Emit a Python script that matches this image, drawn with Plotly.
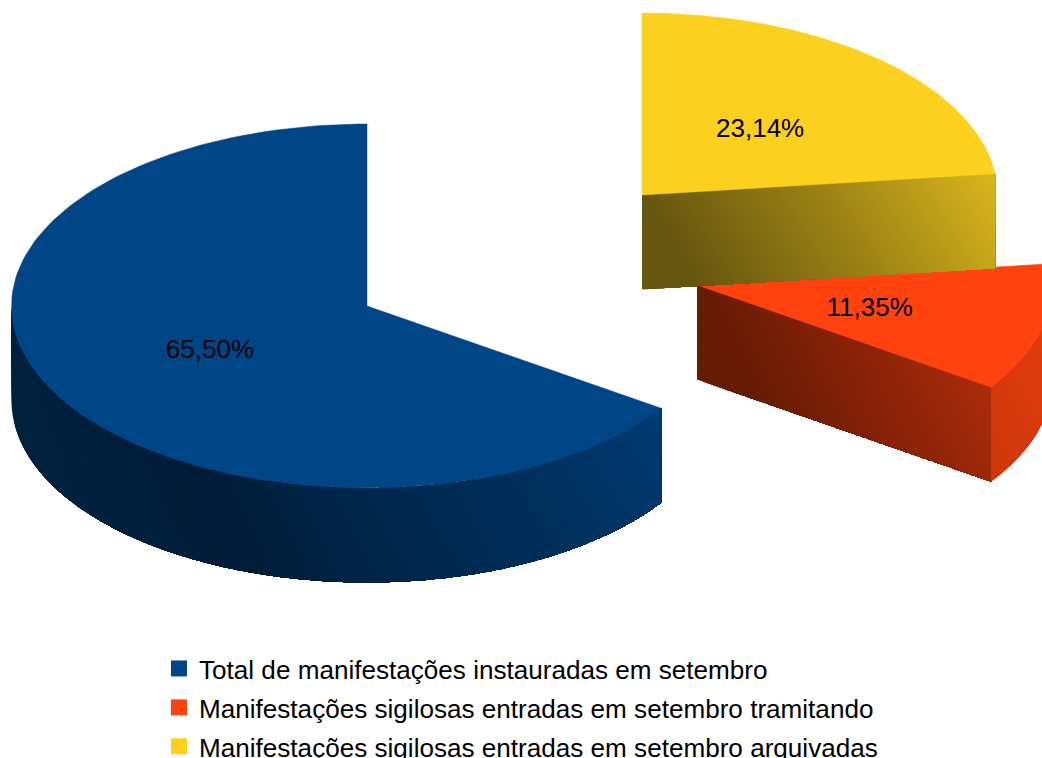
import math
import plotly.graph_objects as go

# ---- data ----
categories = [
    "Total de manifestações instauradas em setembro",
    "Manifestações sigilosas entradas em setembro tramitando",
    "Manifestações sigilosas entradas em setembro arquivadas",
]
values = [65.50, 11.35, 23.14]
labels = ["65,50%", "11,35%", "23,14%"]
top_colors = ["#004586", "#ff420e", "#fbd01f"]

# ---- projection / style ----
W, H = 1042, 758
RX, RY, DEPTH = 355.5, 182.0, 94.5
centers = [(367, 306), (697, 285), (642, 195)]
FONT = "Liberation Sans"
LABEL_DY = 3


def pt(c, deg, f=1.0):
    a = math.radians(deg)
    return c[0] - RX * f * math.sin(a), c[1] - RY * f * math.cos(a)


def hex2rgb(h):
    return tuple(int(h[i:i + 2], 16) for i in (1, 3, 5))


def ramp(stops, x):
    if x <= stops[0][0]:
        return hex2rgb(stops[0][1])
    for (x0, c0), (x1, c1) in zip(stops, stops[1:]):
        if x <= x1:
            u = (x - x0) / (x1 - x0)
            a, b = hex2rgb(c0), hex2rgb(c1)
            return tuple(a[i] + (b[i] - a[i]) * u for i in range(3))
    return hex2rgb(stops[-1][1])


def side_traces(edge, stops, k, band=4.0):
    """Extruded face under a polyline. Painted in order of rising shade value:
    each layer covers everything still ahead of it, so no seams appear."""
    xmin = min(p[0] for p in edge)
    xmax = max(p[0] for p in edge)
    out = []
    tb = xmin - k * DEPTH
    while tb < xmax:
        upper, lower = [], []
        for x, y in edge:
            d = DEPTH if tb <= xmin - k * DEPTH else min(DEPTH, (x - tb) / k)
            if d > 0:
                upper.append((x, y))
                lower.append((x, y + d))
        if upper:
            poly = upper + lower[::-1]
            poly.append(poly[0])
            col = "rgb(%d,%d,%d)" % tuple(round(v) for v in ramp(stops, tb + band / 2))
            out.append(go.Scatter(x=[p[0] for p in poly], y=[p[1] for p in poly], mode="none",
                                  fill="toself", fillcolor=col, hoverinfo="skip", showlegend=False))
        tb += band
    return out


total = sum(values)
starts, a = [], 0.0
for v in values:
    starts.append(a)
    a += v / total * 360
ends = [s + v / total * 360 for s, v in zip(starts, values)]


def arc(c, a0, a1, n):
    return [pt(c, a0 + (a1 - a0) * i / n) for i in range(n + 1)]


def lerp_edge(p, q, n):
    return [(p[0] + (q[0] - p[0]) * i / n, p[1] + (q[1] - p[1]) * i / n) for i in range(n + 1)]


def top_trace(i):
    poly = [centers[i]] + arc(centers[i], starts[i], ends[i], 160) + [centers[i]]
    return go.Scatter(x=[p[0] for p in poly], y=[p[1] for p in poly], mode="lines", fill="toself",
                      fillcolor=top_colors[i], line=dict(color=top_colors[i], width=0.5),
                      hoverinfo="skip", showlegend=False)


fig = go.Figure()

# blue slice: outer wall
for t in side_traces(arc(centers[0], 90, ends[0], 300),
                     [(11, "#00213f"), (200, "#001c38"), (367, "#00274c"), (520, "#002f5c"), (661, "#003b72")], 0.5):
    fig.add_trace(t)
fig.add_trace(top_trace(0))

# red slice: cut wall + outer wall
rp = pt(centers[1], ends[0])
for t in side_traces(lerp_edge(centers[1], rp, 150),
                     [(697, "#661b05"), (850, "#8a2208"), (992, "#aa2c0a")], 0.6):
    fig.add_trace(t)
for t in side_traces(arc(centers[1], ends[0], 270, 60),
                     [(960, "#cc370b"), (1050, "#e03d0d")], 0.3):
    fig.add_trace(t)
fig.add_trace(top_trace(1))

# yellow slice: cut wall
yp = pt(centers[2], ends[1])
for t in side_traces(lerp_edge(centers[2], yp, 150),
                     [(642, "#675610"), (830, "#a08615"), (996, "#dab71e")], 0.6):
    fig.add_trace(t)
fig.add_trace(top_trace(2))

# percentage labels
for i, lab in enumerate(labels):
    mid = (starts[i] + ends[i]) / 2
    x, y = pt(centers[i], mid, 0.5)
    fig.add_trace(go.Scatter(x=[x], y=[y + LABEL_DY], mode="text", text=[lab], textposition="middle center",
                             textfont=dict(family=FONT, size=26, color="#000000"),
                             hoverinfo="skip", showlegend=False))

# legend entries
for i, name in enumerate(categories):
    fig.add_trace(go.Scatter(x=[None], y=[None], mode="markers", name=name, legendgroup=str(i),
                             marker=dict(symbol="square", size=16, color=top_colors[i])))

fig.update_layout(
    width=W, height=H, autosize=False,
    margin=dict(l=0, r=0, t=0, b=0, autoexpand=False),
    paper_bgcolor="white", plot_bgcolor="white",
    xaxis=dict(range=[0, W], visible=False, fixedrange=True),
    yaxis=dict(range=[H, 0], visible=False, fixedrange=True),
    legend=dict(x=159 / W, xanchor="left", y=1 - 645 / H, yanchor="top", tracegroupgap=2,
                font=dict(family=FONT, size=26.1, color="#000000"), bgcolor="rgba(0,0,0,0)"),
)
fig.write_html("out.html", config=dict(displayModeBar=False),
               post_script="document.body.style.margin='0';document.body.style.overflow='hidden';")
